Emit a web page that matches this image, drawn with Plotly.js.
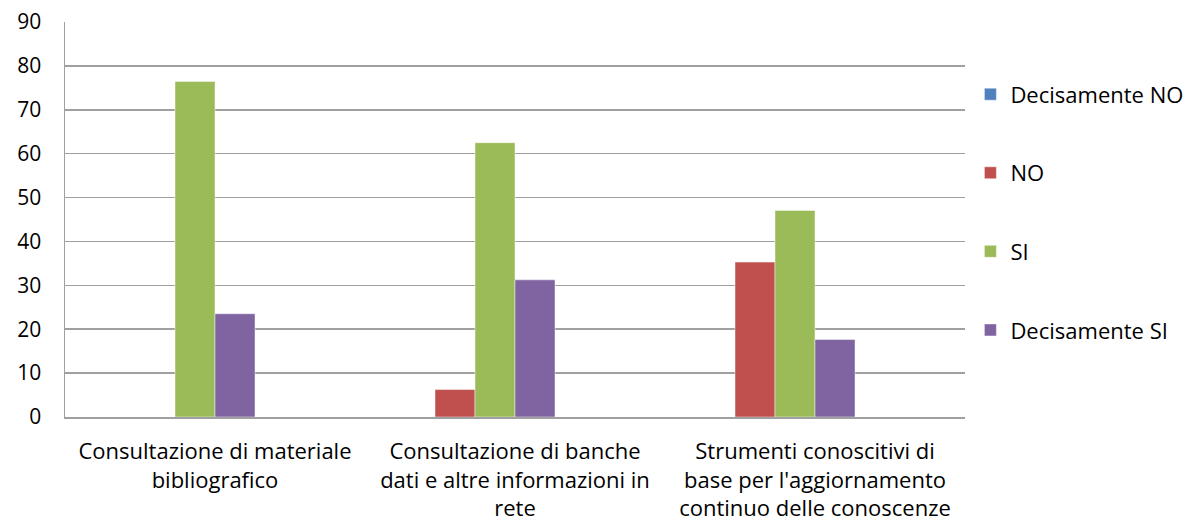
<!DOCTYPE html>
<html>
<head>
<meta charset="utf-8">
<script src="https://cdn.plot.ly/plotly-3.0.1.min.js"></script>
<style>
  html, body { margin: 0; padding: 0; background: #ffffff; }
  #chart { width: 1194px; height: 527px; }
</style>
</head>
<body>
<div id="chart"></div>
<script>
const categories = [
  "Consultazione di materiale<br>bibliografico",
  "Consultazione di banche<br>dati e altre informazioni in<br>rete",
  "Strumenti conoscitivi di<br>base per l'aggiornamento<br>continuo delle conoscenze"
];
const seriesNames = ["Decisamente NO", "NO", "SI", "Decisamente SI"];
const decisamenteNO = [0, 0, 0];
const no = [0, 6.25, 35.29];
const si = [76.47, 62.5, 47.06];
const decisamenteSI = [23.53, 31.25, 17.65];
const yTicks = [0, 10, 20, 30, 40, 50, 60, 70, 80, 90];

const colors = ["#4F81BD", "#C0504D", "#9BBB59", "#8064A2"];
const values = [decisamenteNO, no, si, decisamenteSI];
const barW = 40 / 300;
const offsets = [-3 * barW, -2 * barW, -barW, 0];

const traces = values.map((v, i) => ({
  type: "bar",
  name: seriesNames[i],
  x: [0, 1, 2],
  y: v,
  width: barW,
  offset: offsets[i],
  legendgroup: "g" + i,
  marker: { color: colors[i], line: { color: "rgba(255,255,255,0.45)", width: 1 } },
  hoverinfo: "y+name"
}));

const fam = "'Open Sans', Lato, sans-serif";
const font = { family: fam, size: 22, color: "#000000" };
const yFont = { family: fam, size: 21, color: "#000000" };

const layout = {
  width: 1194,
  height: 527,
  margin: { l: 65, r: 229, t: 22, b: 110, autoexpand: false },
  paper_bgcolor: "#ffffff",
  plot_bgcolor: "#ffffff",
  font: font,
  barmode: "overlay",
  showlegend: true,
  legend: {
    x: 1.006, xanchor: "left",
    y: 0.87, yanchor: "top",
    font: font,
    traceorder: "grouped",
    tracegroupgap: 47,
    itemwidth: 30,
    bgcolor: "rgba(0,0,0,0)"
  },
  xaxis: {
    range: [-0.5, 2.5],
    tickvals: [0, 1, 2],
    ticktext: categories,
    showgrid: false,
    zeroline: false,
    showline: true,
    linecolor: "#a0a0a0",
    linewidth: 1.5,
    ticks: "",
    ticklabelstandoff: 14,
    tickfont: font,
    fixedrange: true
  },
  yaxis: {
    range: [0, 90],
    tickvals: yTicks,
    ticktext: yTicks.map(String),
    showgrid: true,
    gridcolor: "#a0a0a0",
    gridwidth: 1.5,
    zeroline: false,
    showline: true,
    linecolor: "#a0a0a0",
    linewidth: 1.5,
    ticks: "",
    ticklabelstandoff: 18,
    tickfont: yFont,
    fixedrange: true
  }
};

Plotly.newPlot("chart", traces, layout, { displayModeBar: false, staticPlot: true });
</script>
</body>
</html>
